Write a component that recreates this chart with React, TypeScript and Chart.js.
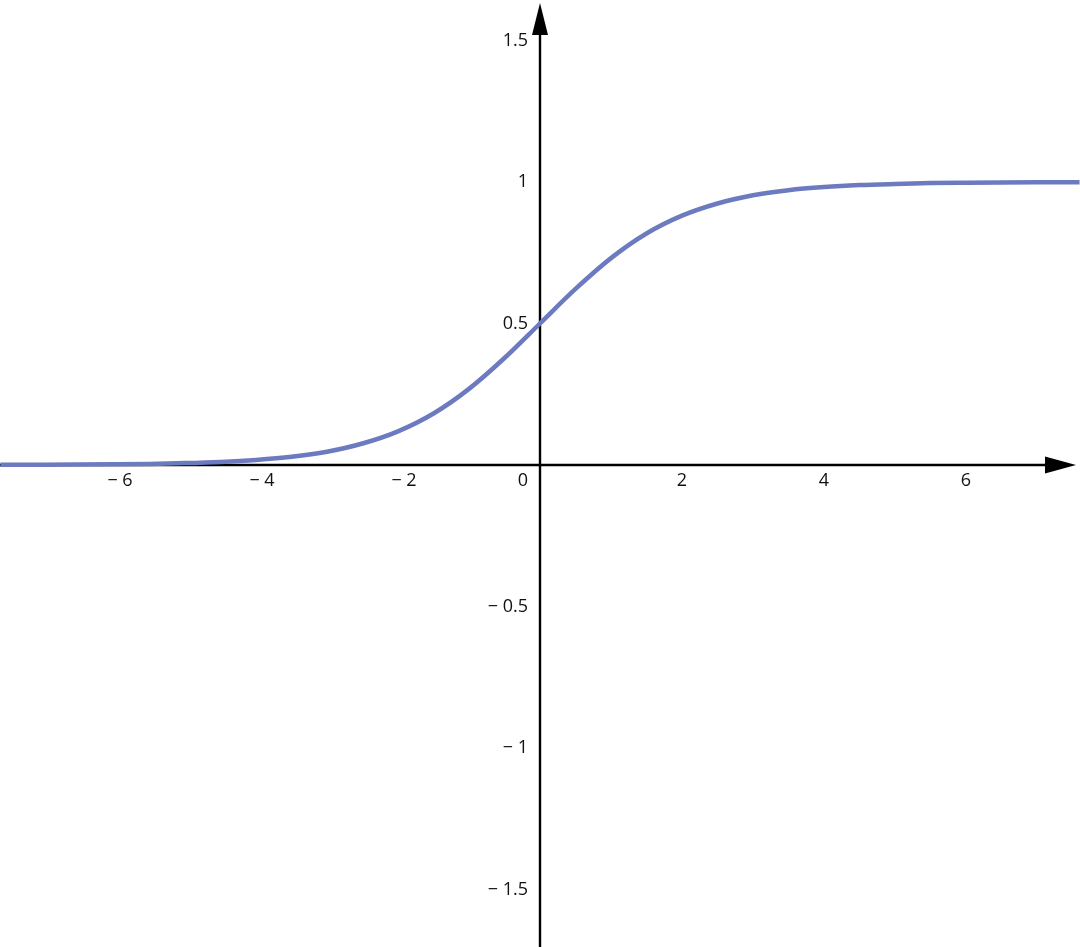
import React, { useEffect, useRef } from "react";
import { Chart, registerables } from "chart.js";

Chart.register(...registerables);

// Curve
const xValues = [-7.6, -7, -6.5, -6, -5.5, -5, -4.5, -4, -3.5, -3, -2.5, -2, -1.5, -1, -0.5, 0, 0.5, 1, 1.5, 2, 2.5, 3, 3.5, 4, 4.5, 5, 5.5, 6, 6.5, 7, 7.6];
const yValues = [0.0005, 0.0009, 0.0015, 0.0025, 0.004, 0.0067, 0.011, 0.018, 0.029, 0.047, 0.076, 0.119, 0.182, 0.269, 0.378, 0.5, 0.622, 0.731, 0.818, 0.881, 0.924, 0.953, 0.971, 0.982, 0.989, 0.993, 0.996, 0.9975, 0.9985, 0.9991, 0.9995];

const xTicks = [-6, -4, -2, 0, 2, 4, 6];
const xTickLabels = ["\u2212 6", "\u2212 4", "\u2212 2", "0", "2", "4", "6"];
const yTicks = [1.5, 1, 0.5, -0.5, -1, -1.5];
const yTickLabels = ["1.5", "1", "0.5", "\u2212 0.5", "\u2212 1", "\u2212 1.5"];

const X_MIN = -7.606;
const X_MAX = 7.606;
const Y_MIN = -1.703;
const Y_MAX = 1.643;

const axesPlugin = {
  id: "originAxes",
  beforeDatasetsDraw(chart: any) {
    const { ctx, scales, chartArea } = chart;
    const xs = scales.x;
    const ys = scales.y;
    const ox = xs.getPixelForValue(0);
    const oy = ys.getPixelForValue(0);
    ctx.save();
    ctx.strokeStyle = "#000";
    ctx.fillStyle = "#000";
    ctx.lineWidth = 2.4;
    // x axis
    ctx.beginPath();
    ctx.moveTo(chartArea.left, oy);
    ctx.lineTo(chartArea.right - 20, oy);
    ctx.stroke();
    // x arrow
    ctx.beginPath();
    ctx.moveTo(chartArea.right - 4, oy);
    ctx.lineTo(chartArea.right - 35, oy - 8.5);
    ctx.lineTo(chartArea.right - 35, oy + 8.5);
    ctx.closePath();
    ctx.fill();
    // y axis
    ctx.beginPath();
    ctx.moveTo(ox, chartArea.bottom);
    ctx.lineTo(ox, chartArea.top + 20);
    ctx.stroke();
    // y arrow
    ctx.beginPath();
    ctx.moveTo(ox, chartArea.top + 3);
    ctx.lineTo(ox - 8, chartArea.top + 35);
    ctx.lineTo(ox + 8, chartArea.top + 35);
    ctx.closePath();
    ctx.fill();

    ctx.font = "18px 'Open Sans', Lato, sans-serif";
    ctx.fillStyle = "#111";
    // x tick labels
    ctx.textBaseline = "top";
    xTicks.forEach((v, i) => {
      let px = xs.getPixelForValue(v);
      if (v === 0) {
        ctx.textAlign = "right";
        px = px - 12;
      } else {
        ctx.textAlign = "center";
        if (v < 0) px += 6;
      }
      ctx.fillText(xTickLabels[i], px, oy + 7);
    });
    // y tick labels
    ctx.textAlign = "right";
    ctx.textBaseline = "middle";
    yTicks.forEach((v, i) => {
      const py = ys.getPixelForValue(v);
      ctx.fillText(yTickLabels[i], ox - 12, py);
    });
    ctx.restore();
  },
};

export default function App() {
  const canvasRef = useRef<HTMLCanvasElement | null>(null);

  useEffect(() => {
    document.body.style.margin = "0";
    const canvas = canvasRef.current;
    if (!canvas) return;
    const chart = new Chart(canvas, {
      type: "scatter",
      data: {
        datasets: [
          {
            data: xValues.map((x, i) => ({ x, y: yValues[i] })),
            showLine: true,
            borderColor: "rgb(108,122,192)",
            borderWidth: 4.5,
            pointRadius: 0,
            cubicInterpolationMode: "monotone",
            fill: false,
          },
        ],
      },
      options: {
        responsive: false,
        animation: false,
        layout: { padding: 0 },
        plugins: {
          legend: { display: false },
          tooltip: { enabled: false },
        },
        scales: {
          x: { type: "linear", min: X_MIN, max: X_MAX, display: false },
          y: { type: "linear", min: Y_MIN, max: Y_MAX, display: false },
        },
      },
      plugins: [axesPlugin],
    });
    return () => chart.destroy();
  }, []);

  return (
    <div style={{ width: 1080, height: 947, background: "#fff" }}>
      <canvas ref={canvasRef} width={1080} height={947} style={{ display: "block" }} />
    </div>
  );
}
